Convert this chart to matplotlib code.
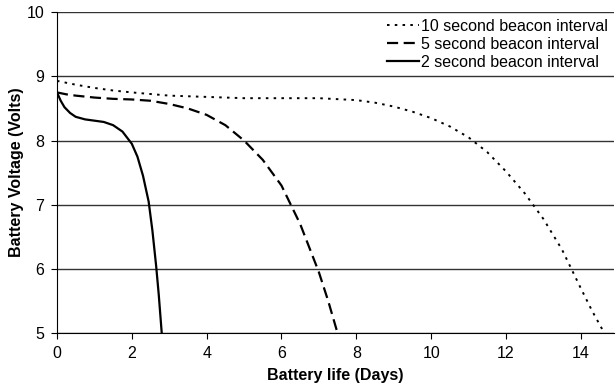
import matplotlib.pyplot as plt

plt.rcParams['font.family'] = ['Liberation Sans', 'DejaVu Sans']

# 10 second beacon interval
days_10 = [0, 0.5, 1, 1.5, 2, 3, 4, 5, 6, 7, 8, 8.5, 9, 9.5, 10, 10.5, 11, 11.5,
           12, 12.5, 13, 13.5, 14, 14.3, 14.65]
volts_10 = [8.93, 8.87, 8.82, 8.78, 8.75, 8.70, 8.68, 8.66, 8.66, 8.66, 8.63, 8.59,
            8.53, 8.45, 8.35, 8.22, 8.05, 7.82, 7.52, 7.18, 6.78, 6.3, 5.7, 5.35, 4.98]

# 5 second beacon interval
days_5 = [0, 0.25, 0.5, 1, 1.5, 2, 2.5, 3, 3.5, 4, 4.5, 5, 5.5, 6, 6.5, 7, 7.25, 7.5]
volts_5 = [8.75, 8.72, 8.70, 8.67, 8.65, 8.64, 8.62, 8.57, 8.50, 8.40, 8.24, 8.0,
           7.7, 7.3, 6.7, 5.95, 5.5, 5.0]

# 2 second beacon interval
days_2 = [0, 0.1, 0.2, 0.35, 0.5, 0.75, 1, 1.25, 1.5, 1.75, 2, 2.15, 2.3, 2.45,
          2.55, 2.65, 2.72, 2.8]
volts_2 = [8.75, 8.62, 8.52, 8.43, 8.37, 8.33, 8.31, 8.29, 8.24, 8.14, 7.95, 7.75,
           7.45, 7.05, 6.6, 6.05, 5.6, 5.0]

labels = ['10 second beacon interval', '5 second beacon interval', '2 second beacon interval']

fig = plt.figure(figsize=(6.16, 3.92), dpi=100)
ax = fig.add_axes([0.0925, 0.150, 0.905, 0.819])

ax.plot(days_10, volts_10, color='black', lw=1.4, linestyle=(0, (1.3, 2.7)), label=labels[0])
ax.plot(days_5, volts_5, color='black', lw=1.6, linestyle=(0, (5, 2.5)), label=labels[1])
ax.plot(days_2, volts_2, color='black', lw=1.6, label=labels[2])

ax.set_xlim(0, 14.9)
ax.set_ylim(5, 10)
ax.set_xticks(range(0, 15, 2))
ax.set_yticks(range(5, 11))
ax.yaxis.grid(True, color='#333333', lw=1)
ax.set_axisbelow(True)
for s in ['top', 'right']:
    ax.spines[s].set_visible(False)
ax.tick_params(labelsize=11.5, length=4, direction='out', color='black', pad=5)

ax.set_xlabel('Battery life (Days)', fontsize=11.5, fontweight='bold', labelpad=5)
ax.set_ylabel('Battery Voltage (Volts)', fontsize=11.5, fontweight='bold', labelpad=2)

leg = ax.legend(loc='upper right', frameon=True, fontsize=11.5, handlelength=2.0,
                handletextpad=0.15, borderaxespad=0.1, borderpad=0.3,
                labelspacing=0.2, fancybox=False)
leg.get_frame().set_edgecolor('none')

fig.savefig('out.png', dpi=100)
